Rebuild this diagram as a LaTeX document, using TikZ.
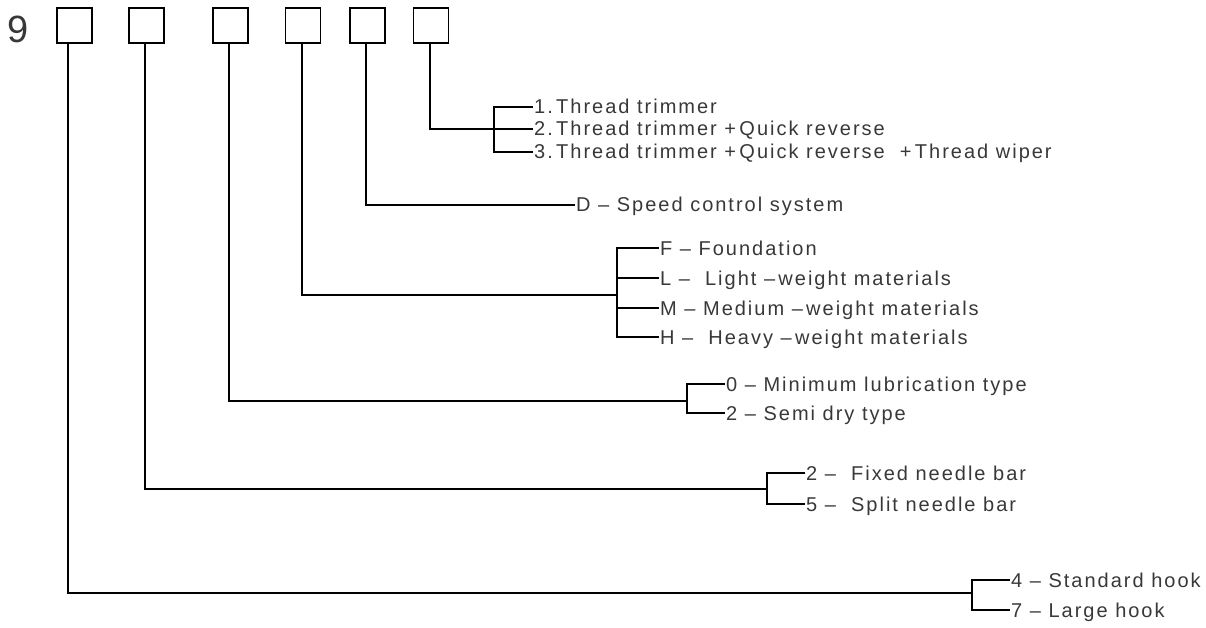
\documentclass[tikz,border=0pt]{standalone}
\usepackage{fontspec}
\setmainfont{Liberation Sans}
\newfontfamily\spaced[LetterSpace=10]{Liberation Sans}
\usetikzlibrary{positioning,calc}

\begin{document}
\begin{tikzpicture}[x=1pt,y=-1pt,
  digit/.style={draw,line width=1.3pt,minimum size=35pt,inner sep=0pt},
  lbl/.style={anchor=west,inner sep=1pt,text height=14pt,text depth=0pt,
              font=\spaced\fontsize{20}{22}\selectfont,text=black!78},
  ln/.style={line width=1.3pt}
]
\useasboundingbox (0,0) rectangle (1206,628);
% model code
\node[font=\fontsize{38}{40}\selectfont,text=black!78] (nine) at (18.5,29) {9};
\node[digit] (b1) at (74.5,25.5) {};
\node[digit] (b2) at (146.5,25.5) {};
\node[digit] (b3) at (230.5,25.5) {};
\node[digit] (b4) at (303,25.5) {};
\node[digit] (b5) at (367.5,25.5) {};
\node[digit] (b6) at (431,25.5) {};
% junctions
\coordinate (j6) at (494,129);
\coordinate (j4) at (617,295);
\coordinate (j3) at (687,401);
\coordinate (j2) at (767,489);
\coordinate (j1) at (972,593);
% options
\node[lbl] (t61) at (533,107) {1.\,Thread trimmer};
\node[lbl] (t62) at (533,129) {2.\,Thread trimmer +\,Quick reverse};
\node[lbl] (t63) at (533,152) {3.\,Thread trimmer +\,Quick reverse \ +\,Thread wiper};
\node[lbl] (t5) at (575,205) {D – Speed control system};
\node[lbl] (t41) at (659,248) {F – Foundation};
\node[lbl] (t42) at (659,278) {L – \ Light –\,weight materials};
\node[lbl] (t43) at (659,308) {M – Medium –\,weight materials};
\node[lbl] (t44) at (659,337) {H – \ Heavy –\,weight materials};
\node[lbl] (t31) at (725,384) {0 – Minimum lubrication type};
\node[lbl] (t32) at (725,413) {2 – Semi dry type};
\node[lbl] (t21) at (805,473) {2 – \ Fixed needle bar};
\node[lbl] (t22) at (805,504) {5 – \ Split needle bar};
\node[lbl] (t11) at (1010,580) {4 – Standard hook};
\node[lbl] (t12) at (1010,610) {7 – Large hook};
% leads
\draw[ln] ([xshift=-1pt]b6.south) |- (j6);
\draw[ln] (t61.west) -| (j6) |- (t63.west); \draw[ln] (j6) -- (t62.west);
\draw[ln] ([xshift=-1.5pt]b5.south) |- (t5.west);
\draw[ln] ([xshift=-1pt]b4.south) |- (j4);
\draw[ln] (t41.west) -| (j4) |- (t44.west);
\draw[ln] (t42.west) -- (t42.west -| j4); \draw[ln] (t43.west) -- (t43.west -| j4);
\draw[ln] ([xshift=-1.5pt]b3.south) |- (j3);
\draw[ln] (t31.west) -| (j3) |- (t32.west);
\draw[ln] ([xshift=-1.5pt]b2.south) |- (j2);
\draw[ln] (t21.west) -| (j2) |- (t22.west);
\draw[ln] ([xshift=-6.5pt]b1.south) |- (j1);
\draw[ln] (t11.west) -| (j1) |- (t12.west);
\end{tikzpicture}
\end{document}
